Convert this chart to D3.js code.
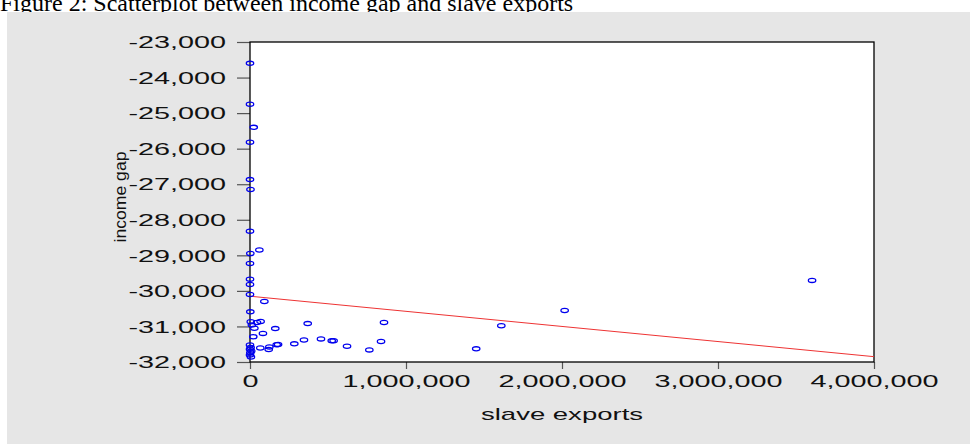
<!DOCTYPE html>
<html>
<head>
<meta charset="utf-8">
<script src="https://cdn.jsdelivr.net/npm/d3@7"></script>
<style>
  html, body { margin: 0; padding: 0; background: #ffffff; }
  svg { display: block; }
</style>
</head>
<body>
<svg id="chart" width="970" height="444"></svg>
<script>
// ---- data ----
const slaveExports = [
  0, 0, 24000, 0, 0, 3000, 0, 60000, 2000, 0, 0, 0, 0, 92000, 2000,
  5000, 45000, 68000, 370000, 859000, 28000, 162000, 12000, 83000, 21000,
  346000, 455000, 524000, 536000, 284000, 171000, 180000, 622000, 840000,
  765000, 66000, 124000, 120000, 0, 4000, 0, 8000, 2000, 0, 6000,
  1450000, 1611000, 2017000, 3603000
];
const incomeGap = [
  -23600, -24750, -25400, -25820, -26870, -27150, -28320, -28850, -28950,
  -29230, -29670, -29820, -30100, -30300, -30590, -30870, -30890, -30860,
  -30920, -30890, -31050, -31060, -30960, -31195, -31290, -31380, -31350,
  -31405, -31400, -31490, -31515, -31505, -31555, -31425, -31660, -31605,
  -31575, -31650, -31520, -31590, -31640, -31690, -31740, -31800, -31860,
  -31630, -30980, -30550, -29705
];
const xTicks = [0, 1000000, 2000000, 3000000, 4000000];
const yTicks = [-32000, -31000, -30000, -29000, -28000, -27000, -26000, -25000, -24000, -23000];
const fitIntercept = -30150;     // fitted line value at 0 exports
const fitSlope = -0.000425;      // change in income gap per exported slave
const titleText = "Figure 2: Scatterplot between income gap and slave exports";
const xTitle = "slave exports";
const yTitle = "income gap";

// ---- layout ----
const plot = { left: 250, right: 874, top: 42, bottom: 362 };
const stretch = 1.8;
const svg = d3.select("#chart");
const fmt = d3.formatLocale({decimal: ".", thousands: ",", grouping: [3], currency: ["", ""], minus: "-"}).format(",");

// title
svg.append("text").attr("x", 0).attr("y", 11)
  .attr("font-family", "'Liberation Serif', 'Times New Roman', serif")
  .attr("font-size", 24).attr("fill", "#000").text(titleText);

// gray panel
svg.append("rect").attr("x", 7).attr("y", 12).attr("width", 963).attr("height", 432).attr("fill", "#e6e6e6");

const x = d3.scaleLinear().domain([0, 4000000]).range([plot.left, plot.right]);
const y = d3.scaleLinear().domain([-32000, -23000]).range([plot.bottom, plot.top]);

// plot background
svg.append("rect").attr("x", plot.left).attr("y", plot.top)
  .attr("width", plot.right - plot.left).attr("height", plot.bottom - plot.top)
  .attr("fill", "#ffffff");

// axes
const yAxis = svg.append("g").attr("transform", `translate(${plot.left},0)`)
  .call(d3.axisLeft(y).tickValues(yTicks).tickFormat(fmt).tickSize(13).tickPadding(11));
const xAxis = svg.append("g").attr("transform", `translate(0,${plot.bottom})`)
  .call(d3.axisBottom(x).tickValues(xTicks).tickFormat(fmt).tickSize(7));

[yAxis, xAxis].forEach(g => {
  g.select(".domain").remove();
  g.selectAll(".tick line").attr("stroke", "#555").attr("stroke-width", 1.2);
  g.selectAll(".tick text")
    .attr("font-family", "'Liberation Sans', Arial, sans-serif")
    .attr("font-size", 16).attr("fill", "#111");
});
yAxis.selectAll(".tick text")
  .attr("x", 0).attr("dy", "0.36em")
  .attr("transform", `translate(-24,0) scale(${stretch},1)`);
xAxis.selectAll(".tick text")
  .attr("y", 0).attr("dy", 0)
  .attr("transform", `translate(0,25) scale(${stretch},1)`);

// frame
svg.append("rect").attr("x", plot.left).attr("y", plot.top)
  .attr("width", plot.right - plot.left).attr("height", plot.bottom - plot.top)
  .attr("fill", "none").attr("stroke", "#000").attr("stroke-width", 1.3);

// fitted line
const xd = x.domain();
svg.append("line")
  .attr("x1", x(xd[0])).attr("y1", y(fitIntercept + fitSlope * xd[0]))
  .attr("x2", x(xd[1])).attr("y2", y(fitIntercept + fitSlope * xd[1]))
  .attr("stroke", "#ee3333").attr("stroke-width", 1);

// points
svg.append("g").selectAll("ellipse")
  .data(slaveExports.map((v, i) => [v, incomeGap[i]]))
  .join("ellipse")
  .attr("cx", d => x(d[0])).attr("cy", d => y(d[1]))
  .attr("rx", 3.7).attr("ry", 2.1)
  .attr("fill", "none").attr("stroke", "#0000ee").attr("stroke-width", 1.3);

// axis titles
svg.append("text")
  .attr("transform", `translate(562,420) scale(1.72,1)`)
  .attr("text-anchor", "middle")
  .attr("font-family", "'Liberation Sans', Arial, sans-serif")
  .attr("font-size", 16).attr("fill", "#111").text(xTitle);

svg.append("text")
  .attr("transform", `translate(126,197) rotate(-90) scale(1.1,1)`)
  .attr("text-anchor", "middle")
  .attr("font-family", "'Liberation Sans', Arial, sans-serif")
  .attr("font-size", 16).attr("fill", "#111").text(yTitle);
</script>
</body>
</html>
